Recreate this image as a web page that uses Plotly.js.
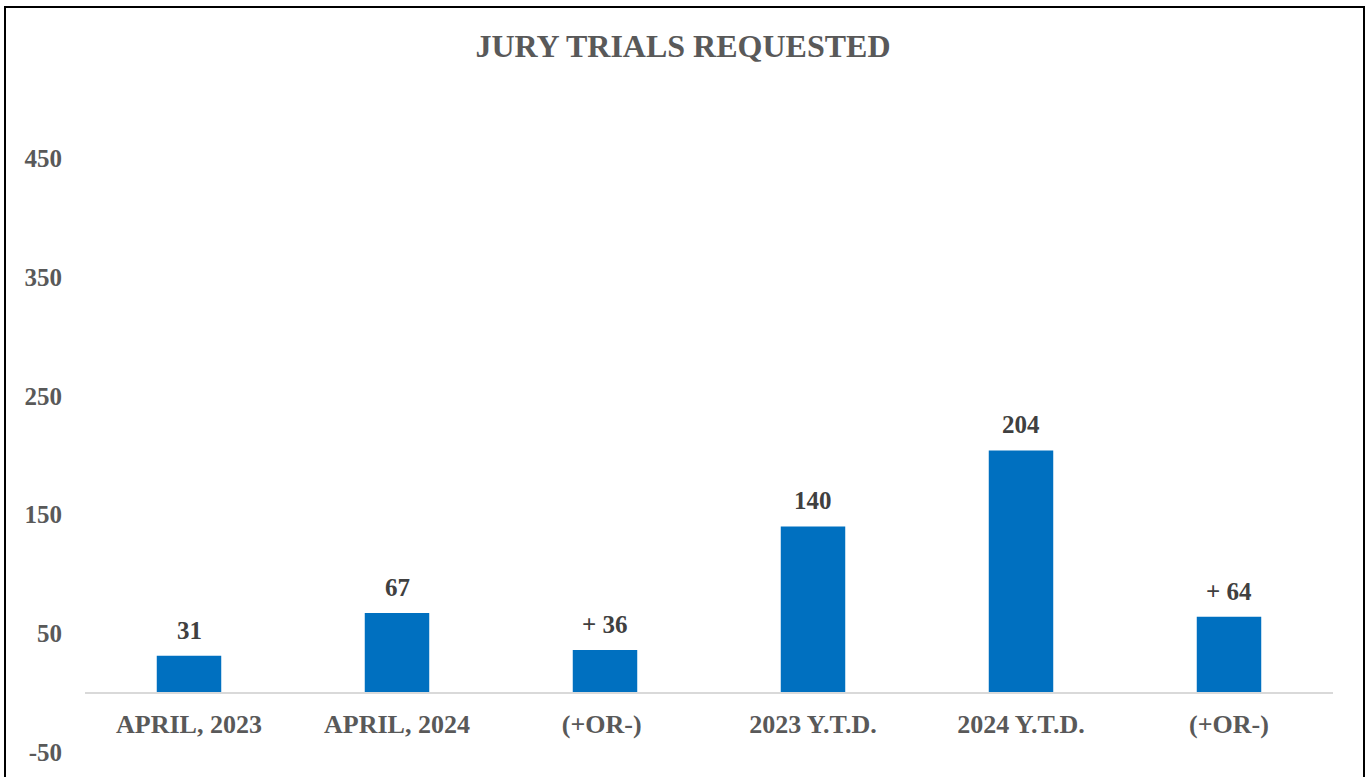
<!DOCTYPE html>
<html>
<head>
<meta charset="utf-8">
<script src="https://cdn.plot.ly/plotly-3.0.1.min.js"></script>
<style>
  body { margin: 0; background: #fff; }
  #plot { position: absolute; left: 0; top: 0; width: 1366px; height: 777px; }
  #frame { position: absolute; left: 4px; top: 6px; width: 1357px; height: 790px;
           border: 2px solid #000; pointer-events: none; }
</style>
</head>
<body>
<div id="plot"></div>
<div id="frame"></div>
<script>
// Chart data
var categories = ["APRIL, 2023", "APRIL, 2024", "(+OR-) ", "2023 Y.T.D.", "2024 Y.T.D.", "(+OR-)"];
var values = [31, 67, 36, 140, 204, 64];
var labels = ["31", "67", "+ 36", "140", "204", "+ 64"];
var yTicks = [-50, 50, 150, 250, 350, 450];

var font = "'Liberation Serif', 'Times New Roman', serif";

var trace = {
	type: 'bar',
	x: categories,
	y: values,
	marker: { color: '#0070c0' },
	hoverinfo: 'none'
};

// value labels above the bars
var annotations = categories.map(function (c, i) {
	return {
		x: c, y: values[i], xref: 'x', yref: 'y',
		text: '<b>' + labels[i] + '</b>',
		showarrow: false,
		yanchor: 'bottom',
		yshift: 10,
		font: { family: font, size: 25, color: '#404040' }
	};
});

var layout = {
	width: 1366,
	height: 777,
	paper_bgcolor: '#fff',
	plot_bgcolor: '#fff',
	margin: { l: 85, r: 33, t: 99, b: 25 },
	bargap: 0.69,
	showlegend: false,
	font: { family: font, color: '#595959' },
	annotations: annotations,
	title: {
		text: '<b>JURY TRIALS REQUESTED</b>',
		font: { family: font, size: 32, color: '#595959' },
		x: 0.5, xref: 'container',
		y: 1 - 46 / 777, yref: 'container', yanchor: 'middle'
	},
	xaxis: {
		type: 'category',
		anchor: 'free',
		position: 50 / 550,
		showline: true,
		linecolor: '#d9d9d9',
		linewidth: 2,
		showgrid: false,
		ticks: '',
		ticklabelstandoff: 8,
		tickfont: { family: font, size: 26, color: '#595959', weight: 'bold' }
	},
	yaxis: {
		range: [-50, 500],
		tickmode: 'array',
		tickvals: yTicks,
		ticktext: yTicks.map(String),
		showgrid: false,
		zeroline: false,
		showline: false,
		ticks: '',
		ticklabelstandoff: 22,
		tickfont: { family: font, size: 25, color: '#595959', weight: 'bold' }
	}
};

Plotly.newPlot('plot', [trace], layout, { displayModeBar: false, staticPlot: true });
</script>
</body>
</html>
